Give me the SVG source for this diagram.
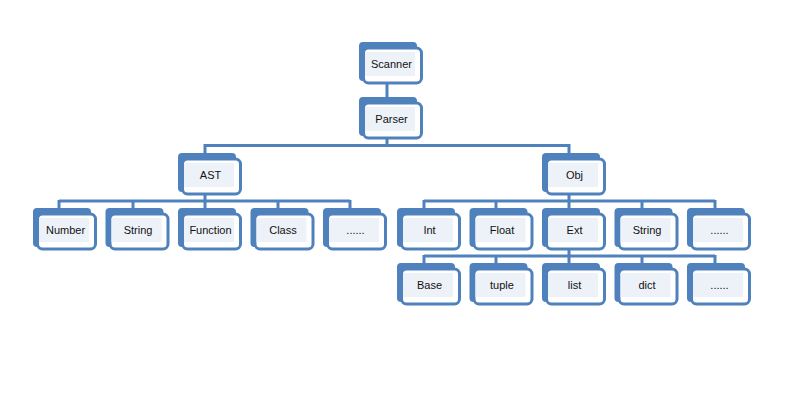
<svg xmlns="http://www.w3.org/2000/svg" width="808" height="393" viewBox="0 0 808 393">
<style>
.bk{fill:#4f81bd}
.fr{fill:#fff;stroke:#4f81bd;stroke-width:3}
.in{fill:#edf2f9}
.t{font-family:"Liberation Sans",Arial,sans-serif;font-size:11px;fill:#111;text-anchor:middle}
.c{fill:none;stroke:#4f81bd;stroke-width:3}
</style>
<defs>
<g id="box">
<rect class="bk" x="0" y="0" width="58" height="39" rx="4"/>
<rect class="fr" x="4.5" y="6" width="58" height="35" rx="5"/>
<rect class="in" x="6" y="10" width="50" height="24"/>
</g>
</defs>
<rect width="808" height="393" fill="#fff"/>
<g id="connectors">
<path class="c" d="M387,84V100M387,139V145.5M205,145.5H569M205,144V155M569,144V155"/>
<path class="c" d="M205,195V201M59,201H350M59,200V210M133,200V210M205,200V210M278,200V210M350,200V210"/>
<path class="c" d="M569,195V201M424,201H715M424,200V210M496,200V210M569,200V210M642,200V210M715,200V210"/>
<path class="c" d="M569,250V256M424,256H715M424,255V265M496,255V265M569,255V265M642,255V265M715,255V265"/>
</g>
<g id="scanner" transform="translate(359,42)"><use href="#box"/><text class="t" x="32.5" y="26">Scanner</text></g>
<g id="parser" transform="translate(359,97)"><use href="#box"/><text class="t" x="32.5" y="26">Parser</text></g>
<g id="ast" transform="translate(178,153)"><use href="#box"/><text class="t" x="32.5" y="26">AST</text></g>
<g id="obj" transform="translate(542,153)"><use href="#box"/><text class="t" x="32.5" y="26">Obj</text></g>
<g id="number" transform="translate(33,208)"><use href="#box"/><text class="t" x="32.5" y="26">Number</text></g>
<g id="string1" transform="translate(105.5,208)"><use href="#box"/><text class="t" x="32.5" y="26">String</text></g>
<g id="function" transform="translate(178,208)"><use href="#box"/><text class="t" x="32.5" y="26">Function</text></g>
<g id="class" transform="translate(250.5,208)"><use href="#box"/><text class="t" x="32.5" y="26">Class</text></g>
<g id="more1" transform="translate(323,208)"><use href="#box"/><text class="t" x="32.5" y="26">......</text></g>
<g id="int" transform="translate(397,208)"><use href="#box"/><text class="t" x="32.5" y="26">Int</text></g>
<g id="float" transform="translate(469.5,208)"><use href="#box"/><text class="t" x="32.5" y="26">Float</text></g>
<g id="ext" transform="translate(542,208)"><use href="#box"/><text class="t" x="32.5" y="26">Ext</text></g>
<g id="string2" transform="translate(614.5,208)"><use href="#box"/><text class="t" x="32.5" y="26">String</text></g>
<g id="more2" transform="translate(687,208)"><use href="#box"/><text class="t" x="32.5" y="26">......</text></g>
<g id="base" transform="translate(397,263)"><use href="#box"/><text class="t" x="32.5" y="26">Base</text></g>
<g id="tuple" transform="translate(469.5,263)"><use href="#box"/><text class="t" x="32.5" y="26">tuple</text></g>
<g id="list" transform="translate(542,263)"><use href="#box"/><text class="t" x="32.5" y="26">list</text></g>
<g id="dict" transform="translate(614.5,263)"><use href="#box"/><text class="t" x="32.5" y="26">dict</text></g>
<g id="more3" transform="translate(687,263)"><use href="#box"/><text class="t" x="32.5" y="26">......</text></g>
</svg>
